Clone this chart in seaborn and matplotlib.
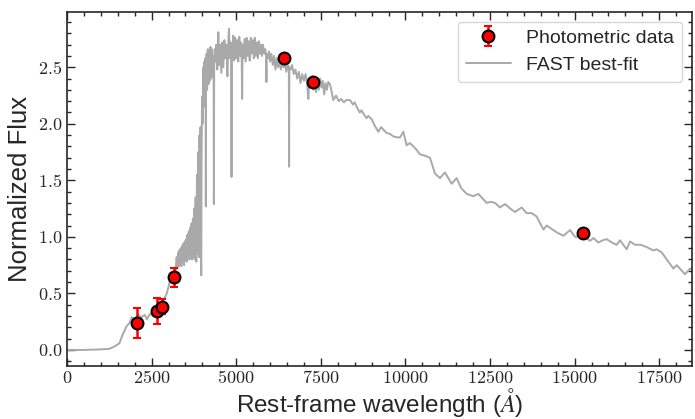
import numpy as np
import pandas as pd
import seaborn as sns
import matplotlib.pyplot as plt
from matplotlib.ticker import MultipleLocator, FuncFormatter

# photometric points (rest-frame wavelength, normalized flux, error)
phot_wave = [2068, 2660, 2817, 3152, 6403, 7279, 15237]
phot_flux = [0.238, 0.344, 0.382, 0.644, 2.583, 2.371, 1.030]
phot_err = [0.135, 0.113, 0.065, 0.085, 0.0, 0.0, 0.0]

# FAST best-fit template
spec_wave = [
    0, 500, 1000, 1250, 1400, 1550, 1650, 1700, 1760, 1850,
    1910, 2000, 2100, 2200, 2300, 2360, 2450, 2550, 2650, 2700,
    2750, 2850, 2950, 3050, 3150, 3200,
    3240, 3260, 3280, 3300, 3320, 3340, 3360, 3380, 3400, 3420,
    3440, 3460, 3480, 3500, 3520, 3540, 3560, 3580, 3600, 3620,
    3640, 3660, 3680, 3700, 3720, 3740, 3760, 3780, 3800, 3820,
    3840, 3860, 3880, 3900, 3915, 3933, 3945, 3960, 3968, 3975,
    3990, 4010, 4029, 4045, 4060, 4075, 4090, 4097, 4102, 4108,
    4125, 4140, 4160, 4180, 4200, 4220, 4240, 4260, 4280, 4300,
    4320, 4333, 4340, 4348, 4365, 4380, 4410, 4440, 4472, 4500,
    4530, 4560, 4590, 4620, 4650, 4680, 4710, 4740, 4770, 4787,
    4810, 4835, 4853, 4861, 4869, 4890, 4915, 4940, 4970, 5000,
    5030, 5060, 5090, 5120, 5145, 5160, 5175, 5190, 5220, 5250,
    5280, 5310, 5340, 5370, 5400, 5430, 5460, 5490, 5520, 5550,
    5580, 5610, 5640, 5670, 5700, 5730, 5760, 5790, 5830, 5860,
    5880, 5893, 5905, 5940, 5970, 6000, 6040, 6080, 6120, 6160,
    6200, 6240, 6280, 6320, 6360, 6400, 6440, 6480, 6520, 6555,
    6563, 6571, 6610, 6650, 6700, 6750, 6800, 6850, 6900, 6950,
    7000, 7050, 7100, 7131, 7160, 7200, 7240, 7280, 7320, 7360,
    7400, 7440, 7480, 7520, 7560, 7600, 7640, 7680, 7720, 7772,
    7820, 7870, 7950, 8030, 8100, 8180, 8250, 8363, 8450, 8500,
    8560, 8650, 8700, 8757, 8850, 8900, 9003, 9100, 9200, 9280,
    9347, 9440, 9544, 9640, 9741, 9840, 9938, 10036, 10130, 10233,
    10330, 10430, 10560, 10725, 10873, 11020, 11168, 11365, 11513, 11650,
    11809, 12006, 12154, 12280, 12400, 12520, 12647, 12794, 12942, 13100,
    13237, 13434, 13582, 13730, 13877, 14076, 14175, 14320, 14471, 14668,
    14865, 15012, 15258, 15455, 15554, 15701, 15830, 15947, 16100, 16243,
    16341, 16538, 16637, 16785, 16950, 17129, 17326, 17425, 17580, 17721,
    17918, 18016, 18262, 18410, 18528,
]
spec_flux = [
    0.0, 0.0, 0.005, 0.01, 0.03, 0.06, 0.14, 0.17, 0.21, 0.24,
    0.29, 0.27, 0.31, 0.29, 0.31, 0.27, 0.32, 0.30, 0.32, 0.29,
    0.35, 0.44, 0.50, 0.62, 0.65, 0.66,
    0.82, 0.72, 0.86, 0.74, 0.88, 0.76, 0.90, 0.74, 0.92, 0.78,
    0.94, 0.75, 0.96, 0.80, 0.98, 0.78, 1.02, 0.82, 1.05, 0.80,
    1.08, 0.85, 1.12, 0.80, 1.16, 0.82, 1.25, 0.80, 1.35, 0.78,
    1.55, 0.85, 1.75, 0.82, 1.90, 0.95, 1.97, 0.78, 0.66, 1.60,
    2.24, 2.00, 2.50, 2.15, 2.55, 2.25, 2.58, 2.45, 1.27, 2.45,
    2.62, 2.30, 2.66, 2.35, 2.62, 2.38, 2.68, 2.40, 2.66, 2.42,
    2.60, 2.50, 1.29, 2.50, 2.66, 2.55, 2.70, 2.48, 2.81, 2.52,
    2.70, 2.45, 2.72, 2.50, 2.74, 2.58, 2.70, 2.42, 2.75, 2.84,
    2.58, 2.72, 2.62, 1.53, 2.62, 2.62, 2.78, 2.56, 2.76, 2.58,
    2.74, 2.55, 2.77, 2.60, 2.72, 2.62, 2.22, 2.70, 2.58, 2.75,
    2.55, 2.76, 2.60, 2.73, 2.56, 2.76, 2.62, 2.74, 2.58, 2.76,
    2.60, 2.72, 2.58, 2.73, 2.62, 2.70, 2.60, 2.70, 2.62, 2.66,
    2.60, 2.37, 2.62, 2.58, 2.64, 2.55, 2.62, 2.52, 2.60, 2.48,
    2.58, 2.50, 2.56, 2.48, 2.55, 2.50, 2.54, 2.46, 2.52, 2.50,
    1.62, 2.50, 2.48, 2.52, 2.44, 2.48, 2.40, 2.46, 2.36, 2.44,
    2.38, 2.44, 2.34, 2.22, 2.40, 2.32, 2.42, 2.30, 2.40, 2.28,
    2.40, 2.30, 2.40, 2.32, 2.38, 2.26, 2.36, 2.30, 2.37, 2.35,
    2.28, 2.21, 2.25, 2.20, 2.22, 2.19, 2.21, 2.21, 2.17, 2.19,
    2.15, 2.10, 2.12, 2.09, 2.05, 2.07, 2.04, 1.98, 1.93, 1.97,
    1.95, 1.92, 1.91, 1.89, 1.88, 1.88, 1.93, 1.81, 1.83, 1.80,
    1.77, 1.73, 1.72, 1.70, 1.56, 1.52, 1.57, 1.47, 1.52, 1.43,
    1.38, 1.36, 1.38, 1.34, 1.30, 1.31, 1.30, 1.26, 1.29, 1.25,
    1.22, 1.26, 1.21, 1.21, 1.18, 1.065, 1.10, 1.07, 1.04, 1.01,
    1.06, 1.00, 1.01, 0.965, 0.99, 0.95, 0.97, 0.98, 0.95, 0.93,
    0.97, 0.89, 0.96, 0.93, 0.93, 0.91, 0.88, 0.89, 0.86, 0.80,
    0.72, 0.75, 0.67, 0.72, 0.70,
]

spec = pd.DataFrame({"wave": spec_wave, "flux": spec_flux})

sns.set_style("ticks")
plt.rcParams["font.family"] = ["Liberation Sans", "DejaVu Sans"]
plt.rcParams["mathtext.fontset"] = "cm"

fig = plt.figure(figsize=(6.95, 4.19), dpi=100)
ax = fig.add_axes([0.0964, 0.127, 0.8989, 0.8447])

sns.lineplot(data=spec, x="wave", y="flux", ax=ax, color="#a9a9a9", lw=1.4,
             estimator=None, sort=False, label="FAST best-fit")
ax.errorbar(phot_wave, phot_flux, yerr=phot_err, fmt="o", color="red",
            mec="black", mew=1.5, ms=8.5, ecolor="red", elinewidth=1.8,
            capsize=2.8, capthick=1.8, label="Photometric data", zorder=5)

ax.set_xlim(0, 18460)
ax.set_ylim(-0.14, 2.99)
ax.xaxis.set_major_locator(MultipleLocator(2500))
ax.xaxis.set_minor_locator(MultipleLocator(500))
ax.yaxis.set_major_locator(MultipleLocator(0.5))
ax.yaxis.set_minor_locator(MultipleLocator(0.1))
ax.xaxis.set_major_formatter(FuncFormatter(lambda v, p: "$%d$" % round(v)))
ax.yaxis.set_major_formatter(FuncFormatter(lambda v, p: "$%.1f$" % v))
ax.tick_params(which="both", direction="in", top=True, right=True,
               labelsize=13, width=1)
ax.tick_params(which="major", length=6)
ax.tick_params(which="minor", length=3)
ax.tick_params(axis="x", pad=3)
for s in ax.spines.values():
    s.set_linewidth(1.2)

ax.set_xlabel(r"Rest-frame wavelength ($\AA$)", fontsize=17.5, labelpad=-1)
ax.set_ylabel("Normalized Flux", fontsize=18.5, labelpad=4)

handles, labels = ax.get_legend_handles_labels()
order = [labels.index("Photometric data"), labels.index("FAST best-fit")]
ax.legend([handles[i] for i in order], [labels[i] for i in order],
          loc="upper right", fontsize=14, handlelength=2.3, frameon=True)

fig.savefig("out.png", dpi=100)
